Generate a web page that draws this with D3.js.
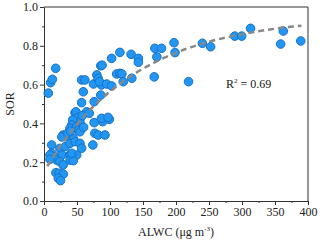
<!DOCTYPE html>
<html>
<head>
<meta charset="utf-8">
<script src="https://cdn.jsdelivr.net/npm/d3@7"></script>
<style>
  body { margin: 0; background: #fff; }
  text { font-family: "Liberation Serif", "Times New Roman", serif; fill: #222; }
</style>
</head>
<body>
<div id="my_scatter"></div>
<script>
// measured points, ALWC vs SOR
const alwc = [6.5, 10, 12.6, 17.7,
  57, 62, 59.5, 57, 76, 75, 80, 82, 86, 88, 87, 86, 84, 95, 102.5, 110, 115, 118, 102.5, 115, 120, 133, 132, 143, 143,
  167, 168, 178, 171, 197, 198.5, 219, 240, 252.5, 289, 299.5, 313, 362.6, 358.6, 389,
  47, 48.5, 64.6, 68.6, 52, 54.5, 43.5, 42, 39.4, 49.5, 52, 54.5, 76, 89, 99, 87, 97, 77, 82, 92.4, 29, 34, 44.4,
  74, 11.6, 24, 32, 39.4, 47, 54.5, 57, 11.6, 16.7, 27, 39.4, 49.5, 19, 24, 39.4, 44.4, 9, 9, 29, 18, 23, 29.3, 21.7, 25,
  42, 27, 36, 40, 60, 58]
const sor = [0.556, 0.61, 0.627, 0.684,
  0.624, 0.624, 0.563, 0.507, 0.512, 0.603, 0.65, 0.632, 0.697, 0.70, 0.598, 0.546, 0.615, 0.603, 0.593, 0.655, 0.658, 0.655, 0.735, 0.766, 0.615, 0.633, 0.756, 0.735, 0.715,
  0.64, 0.787, 0.787, 0.743, 0.816, 0.765, 0.615, 0.813, 0.795, 0.85, 0.85, 0.89, 0.876, 0.809, 0.825,
  0.455, 0.46, 0.46, 0.452, 0.431, 0.409, 0.418, 0.392, 0.375, 0.383, 0.366, 0.357, 0.404, 0.409, 0.421, 0.426, 0.431, 0.349, 0.34, 0.34, 0.34, 0.335, 0.323,
  0.289, 0.289, 0.271, 0.28, 0.297, 0.306, 0.297, 0.272, 0.246, 0.228, 0.237, 0.237, 0.237, 0.211, 0.203, 0.211, 0.208, 0.237, 0.215, 0.186, 0.146, 0.143, 0.139, 0.117, 0.105,
  0.246, 0.33, 0.35, 0.36, 0.38, 0.44]

// fitted curve
const fitX = [5, 25, 50, 85, 120, 150, 200, 250, 300, 350, 390]
const fitY = [0.179, 0.284, 0.395, 0.52, 0.617, 0.682, 0.764, 0.821, 0.86, 0.888, 0.904]

const xTicks = [0, 50, 100, 150, 200, 250, 300, 350, 400]
const yTicks = [0.0, 0.2, 0.4, 0.6, 0.8, 1.0]
const r2Label = "0.69"

const serif = "'Liberation Serif', 'Times New Roman', serif"

// set the dimensions and margins of the graph
const margin = {top: 7, right: 12, bottom: 39, left: 44},
  width = 320 - margin.left - margin.right,
  height = 240 - margin.top - margin.bottom;

const svg = d3.select("#my_scatter")
.append("svg")
  .attr("width", width + margin.left + margin.right)
  .attr("height", height + margin.top + margin.bottom)
.append("g")
  .attr("transform", `translate(${margin.left},${margin.top})`);

const x = d3.scaleLinear().domain([0, 400]).range([0, width])
const y = d3.scaleLinear().domain([0, 1]).range([height, 0])

// minor ticks
svg.append("g")
  .attr("transform", `translate(0, ${height})`)
  .call(d3.axisBottom(x).tickValues(d3.range(25, 400, 50)).tickSize(2).tickFormat(""))
  .call(g => g.select(".domain").remove())
svg.append("g")
  .call(d3.axisLeft(y).tickValues(d3.range(0.1, 1, 0.2)).tickSize(2).tickFormat(""))
  .call(g => g.select(".domain").remove())

// x axis
svg.append("g")
  .attr("transform", `translate(0, ${height})`)
  .call(d3.axisBottom(x).tickValues(xTicks).tickSize(4).tickSizeOuter(0).tickPadding(2))

// y axis
svg.append("g")
  .call(d3.axisLeft(y).tickValues(yTicks).tickSize(4).tickSizeOuter(0).tickPadding(2).tickFormat(d3.format(".1f")))

svg.selectAll(".tick line, .domain").attr("stroke", "#333")
svg.selectAll(".tick text")
  .attr("fill", "#222")
  .style("font-family", serif)
  .style("font-size", "12px")

// frame on top and right
svg.append("path")
  .attr("d", `M0,0H${width}V${height}`)
  .attr("fill", "none")
  .attr("stroke", "#333")

// points
svg.selectAll("circle")
  .data(alwc.map((v, i) => [v, sor[i]]))
  .join("circle")
    .attr("cx", d => x(d[0]))
    .attr("cy", d => y(d[1]))
    .attr("r", 4.3)
    .attr("fill", "#2196f3")
    .attr("stroke", "#1a72c4")
    .attr("stroke-width", 1)

// fit line
svg.append("path")
  .datum(fitX.map((v, i) => [v, fitY[i]]))
  .attr("d", d3.line().x(d => x(d[0])).y(d => y(d[1])).curve(d3.curveMonotoneX))
  .attr("fill", "none")
  .attr("stroke", "#888")
  .attr("stroke-width", 2.5)
  .attr("stroke-dasharray", "6,4")

// R2 label
const r2 = svg.append("text")
  .attr("x", x(310))
  .attr("y", y(0.582))
  .attr("text-anchor", "middle")
  .style("font-size", "12px")
r2.append("tspan").text("R")
r2.append("tspan").attr("dy", -5).style("font-size", "7px").text("2")
r2.append("tspan").attr("dy", 5).text(" = " + r2Label)

// x axis label
const xl = svg.append("text")
  .attr("x", width / 2)
  .attr("y", height + 35)
  .attr("text-anchor", "middle")
  .style("font-size", "12px")
xl.append("tspan").text("ALWC (μg m")
xl.append("tspan").attr("dy", -5).style("font-size", "7px").text("-3")
xl.append("tspan").attr("dy", 5).text(")")

// y axis label
svg.append("text")
  .attr("transform", `translate(${-30}, ${y(0.5)}) rotate(-90)`)
  .attr("text-anchor", "middle")
  .style("font-size", "12px")
  .text("SOR")
</script>
</body>
</html>
